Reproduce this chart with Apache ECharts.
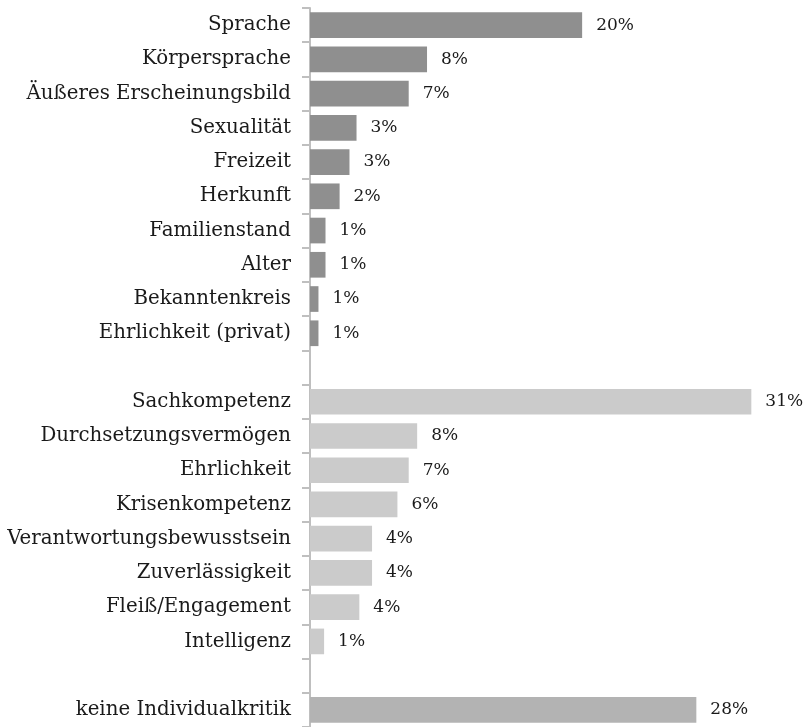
<!DOCTYPE html>
<html lang="de">
<head>
    <meta charset="UTF-8">
    <title>Kritikpunkte</title>
    <script src="https://cdn.jsdelivr.net/npm/echarts@6/dist/echarts.min.js"></script>
    <style>
        html, body { margin: 0; padding: 0; background: #fff; }
    </style>
</head>
<body>
<div id="main" style="width:811px;height:727px;"></div>
<script>
    // Kategorien (leere Einträge = Abstand zwischen den Gruppen)
    var categories = [
        'Sprache', 'Körpersprache', 'Äußeres Erscheinungsbild', 'Sexualität', 'Freizeit',
        'Herkunft', 'Familienstand', 'Alter', 'Bekanntenkreis', 'Ehrlichkeit (privat)',
        '',
        'Sachkompetenz', 'Durchsetzungsvermögen', 'Ehrlichkeit', 'Krisenkompetenz',
        'Verantwortungsbewusstsein', 'Zuverlässigkeit', 'Fleiß/Engagement', 'Intelligenz',
        '',
        'keine Individualkritik'
    ];
    // Balkenlängen (in %, aus dem Bild geschätzt)
    var values = [
        19.3, 8.3, 7.0, 3.3, 2.8, 2.1, 1.1, 1.1, 0.6, 0.6,
        null,
        31.3, 7.6, 7.0, 6.2, 4.4, 4.4, 3.5, 1.0,
        null,
        27.4
    ];
    // Beschriftungen wie im Original
    var labels = [
        '20%', '8%', '7%', '3%', '3%', '2%', '1%', '1%', '1%', '1%',
        '',
        '31%', '8%', '7%', '6%', '4%', '4%', '4%', '1%',
        '',
        '28%'
    ];
    // Gruppe je Balken: 0 = privat, 1 = fachlich, 2 = keine Kritik
    var groups = [0,0,0,0,0,0,0,0,0,0, -1, 1,1,1,1,1,1,1,1, -1, 2];
    var groupColors = ['#8f8f8f', '#cbcbcb', '#b3b3b3'];

    var fontName = 'DejaVu Serif';

    var seriesData = [];
    for (var i = 0; i < values.length; i++) {
        seriesData.push({
            value: values[i],
            itemStyle: { color: groups[i] >= 0 ? groupColors[groups[i]] : 'transparent' }
        });
    }

    var myChart = echarts.init(document.getElementById('main'));
    var option = {
        animation: false,
        grid: {
            left: 310,
            right: 7.5,
            top: 8,
            bottom: -1.3,
            containLabel: false
        },
        xAxis: {
            type: 'value',
            min: 0,
            max: 35,
            show: false
        },
        yAxis: {
            type: 'category',
            inverse: true,
            data: categories,
            axisLine: { lineStyle: { color: '#bfbfbf', width: 2 } },
            axisTick: { show: true, length: 8, lineStyle: { color: '#bfbfbf', width: 2 } },
            axisLabel: {
                margin: 19,
                color: '#1a1a1a',
                fontFamily: fontName,
                fontSize: 19.8,
                interval: 0
            },
            splitLine: { show: false }
        },
        series: [{
            type: 'bar',
            data: seriesData,
            barCategoryGap: '25%',
            label: {
                show: true,
                position: 'right',
                distance: 14,
                color: '#1a1a1a',
                fontFamily: fontName,
                fontSize: 17,
                formatter: function (p) { return labels[p.dataIndex]; }
            }
        }]
    };
    myChart.setOption(option);
</script>
</body>
</html>
